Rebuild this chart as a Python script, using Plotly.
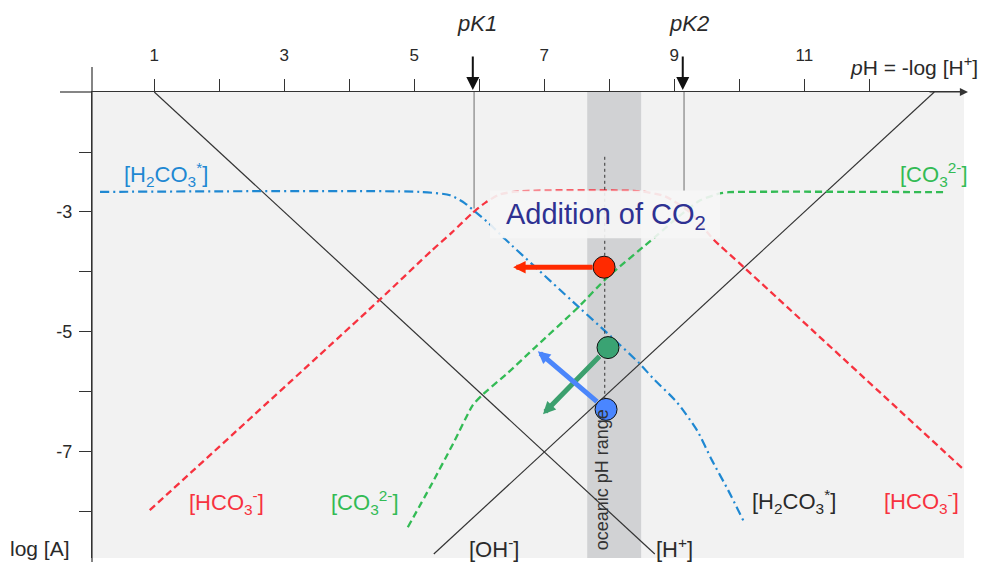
import plotly.graph_objects as go

# ---------------- data ----------------
ph_h2co3 = [0.165, 5.09, 5.55, 5.78, 5.93, 6.15, 6.40, 7.55, 7.97, 8.46, 8.67, 9.04, 9.35, 9.58, 9.83, 10.06]
log_h2co3 = [-2.665, -2.665, -2.72, -2.855, -2.99, -3.19, -3.455, -4.605, -5.02, -5.52, -5.77, -6.17, -6.64, -7.14, -7.64, -8.14]

ph_hco3 = [0.93, 4.46, 5.27, 5.58, 5.89, 6.10, 6.32, 6.63, 8.47, 8.86, 9.24, 9.60, 10.07, 13.43]
log_hco3 = [-7.97, -4.47, -3.64, -3.34, -3.02, -2.84, -2.705, -2.655, -2.655, -2.74, -3.005, -3.455, -3.92, -7.27]

ph_co3 = [4.90, 5.24, 5.60, 5.90, 6.04, 6.43, 6.86, 7.52, 7.97, 8.70, 9.09, 9.40, 9.70, 9.84, 13.19]
log_co3 = [-8.255, -7.59, -6.855, -6.22, -6.055, -5.69, -5.255, -4.59, -4.09, -3.42, -3.055, -2.805, -2.69, -2.67, -2.67]

ph_h = [1.0, 8.7]
log_h = [-1.0, -8.7]
ph_oh = [5.3, 13.0]
log_oh = [-8.7, -1.0]

pk1 = 5.92
pk2 = 9.15
ocean_range = [7.66, 8.49]
ocean_ph = 7.93
dotted_log = [-2.08, -6.1]

point_ph = [7.92, 7.98, 7.95]
point_log = [-3.92, -5.26, -6.29]
point_colors = ["#ff2a00", "#3aa373", "#4a86ff"]
arrow_tip_ph = [6.52, 6.98, 6.90]
arrow_tip_log = [-3.92, -6.37, -5.32]

x_tick_vals = list(range(1, 13))
x_tick_text = [str(v) if v % 2 else "" for v in x_tick_vals]
y_tick_vals = [-2, -3, -4, -5, -6, -7, -8]
y_tick_text = ["", "-3", "", "-5", "", "-7", ""]

X_RANGE = [0.0415, 13.457]
Y_RANGE = [-8.767, -1.0]

FONT = "Liberation Sans, Arial, Helvetica, sans-serif"
BLUE = "#1f88d2"
RED = "#f7323f"
GREEN = "#33bb55"
INK = "#2a2a2a"

# page has an 8px body margin; plot-area geometry in page pixels
OFF = 8
PL, PT, PW, PH = 92, 92, 872, 466   # plot area left/top/width/height in page px


def px_x(px):
    return (px - PL) / PW


def px_y(py):
    return (PT + PH - py) / PH


fig = go.Figure()

fig.add_trace(go.Scatter(x=ph_h, y=log_h, mode="lines", line=dict(color="#333", width=1.2), hoverinfo="skip"))
fig.add_trace(go.Scatter(x=ph_oh, y=log_oh, mode="lines", line=dict(color="#333", width=1.2), hoverinfo="skip"))

fig.add_trace(go.Scatter(x=ph_h2co3, y=log_h2co3, mode="lines",
                         line=dict(color=BLUE, width=2.2, dash="9px,4px,2px,4px", shape="spline", smoothing=0.6),
                         hoverinfo="skip"))
fig.add_trace(go.Scatter(x=ph_hco3, y=log_hco3, mode="lines",
                         line=dict(color=RED, width=2.3, dash="7px,4px", shape="spline", smoothing=0.6),
                         hoverinfo="skip"))
fig.add_trace(go.Scatter(x=ph_co3, y=log_co3, mode="lines",
                         line=dict(color=GREEN, width=2.3, dash="7px,4px", shape="spline", smoothing=0.6),
                         hoverinfo="skip"))

fig.add_trace(go.Scatter(x=[pk1, pk1], y=[-1.0, -2.94], mode="lines", line=dict(color="#999", width=1.5), hoverinfo="skip"))
fig.add_trace(go.Scatter(x=[pk2, pk2], y=[-1.0, -2.65], mode="lines", line=dict(color="#999", width=1.5), hoverinfo="skip"))

fig.add_trace(go.Scatter(x=[ocean_ph, ocean_ph], y=dotted_log, mode="lines",
                         line=dict(color="#333", width=1, dash="dot"), hoverinfo="skip"))

fig.add_trace(go.Scatter(x=point_ph, y=point_log, mode="markers",
                         marker=dict(size=22, color=point_colors, line=dict(color="#111", width=1)),
                         hoverinfo="skip"))

shapes = [
    dict(type="rect", xref="x", yref="paper", x0=ocean_range[0], x1=ocean_range[1], y0=0, y1=1,
         fillcolor="#d1d2d4", line=dict(width=0), layer="below"),
    dict(type="rect", xref="x", yref="y", x0=6.165, x1=9.703, y0=-3.438, y1=-2.64,
         fillcolor="rgba(246,246,246,0.9)", line=dict(width=0), layer="above"),
    dict(type="line", xref="paper", yref="paper", x0=px_x(60), x1=0, y0=1, y1=1,
         line=dict(color="#333", width=1.2)),
    dict(type="line", xref="paper", yref="paper", x0=0, x1=0, y0=px_y(570), y1=px_y(67),
         line=dict(color="#333", width=1.2)),
]


def label(x, y, text, size, color, xref="paper", yref="paper", **kw):
    d = dict(xref=xref, yref=yref, x=x, y=y, text=text, showarrow=False,
             xanchor="center", yanchor="middle", font=dict(family=FONT, size=size, color=color))
    d.update(kw)
    return d


annotations = []
annotations.append(dict(xref="paper", yref="paper", x=px_x(968), y=1, ax=-40, ay=0, text="",
                        showarrow=True, arrowhead=2, arrowsize=1.35, arrowwidth=1.2, arrowcolor="#333"))
for xv in [5.90, 9.13]:
    annotations.append(dict(xref="x", yref="paper", x=xv, y=px_y(90), ax=0, ay=-35, text="",
                            showarrow=True, arrowhead=2, arrowsize=1.3, arrowwidth=2, arrowcolor="#111"))
annotations.append(label(px_x(477), px_y(23), "<i>pK1</i>", 22, INK))
annotations.append(label(px_x(689), px_y(23), "<i>pK2</i>", 22, INK))
annotations.append(label(px_x(914), px_y(66), "<i>p</i>H = -log [H<sup>+</sup>]", 21, INK))
annotations.append(label(px_x(40), px_y(548), "log [A]", 21, INK))

labels = [
    (1.18, -2.372, "[H<sub>2</sub>CO<sub>3</sub><sup>*</sup>]", BLUE),
    (13.0, -2.372, "[CO<sub>3</sub><sup>2-</sup>]", GREEN),
    (2.111, -7.838, "[HCO<sub>3</sub><sup>-</sup>]", RED),
    (4.249, -7.838, "[CO<sub>3</sub><sup>2-</sup>]", GREEN),
    (10.849, -7.822, "[H<sub>2</sub>CO<sub>3</sub><sup>*</sup>]", INK),
    (12.81, -7.822, "[HCO<sub>3</sub><sup>-</sup>]", RED),
    (6.226, -8.605, "[OH<sup>-</sup>]", INK),
    (9.01, -8.605, "[H<sup>+</sup>]", INK),
]
for xv, yv, t, c in labels:
    annotations.append(label(xv, yv, t, 22, c, xref="x", yref="y"))

annotations.append(label(7.95, -3.072, "Addition of CO<sub>2</sub>", 29, "#2e3192", xref="x", yref="y"))
annotations.append(label(7.89, -7.47, "oceanic pH range", 18, "#333", xref="x", yref="y", textangle=-90))

arrow_colors = ["#ff2a00", "#3ca06e", "#4b86fb"]
for i in range(3):
    annotations.append(dict(xref="x", yref="y", axref="x", ayref="y",
                            x=arrow_tip_ph[i], y=arrow_tip_log[i], ax=point_ph[i], ay=point_log[i],
                            text="", showarrow=True, arrowhead=2, arrowsize=0.5, arrowwidth=5,
                            arrowcolor=arrow_colors[i], startstandoff=10))

fig.update_layout(
    width=987 - OFF, height=562 - OFF,
    margin=dict(l=PL - OFF, r=987 - PL - PW, t=PT - OFF, b=562 - PT - PH, pad=0),
    paper_bgcolor="white", plot_bgcolor="#f2f2f2",
    showlegend=False,
    shapes=shapes, annotations=annotations,
    font=dict(family=FONT, color=INK),
    xaxis=dict(range=X_RANGE, side="top", showgrid=False, zeroline=False, showline=True,
               linecolor="#333", linewidth=1.2, ticks="outside", ticklen=12, tickwidth=1.2,
               tickcolor="#333", tickmode="array", tickvals=x_tick_vals, ticktext=x_tick_text,
               tickfont=dict(family=FONT, size=17, color=INK), ticklabelstandoff=11,
               fixedrange=True, automargin=False),
    yaxis=dict(range=Y_RANGE, showgrid=False, zeroline=False, showline=True,
               linecolor="#333", linewidth=1.2, ticks="outside", ticklen=12, tickwidth=1.2,
               tickcolor="#333", tickmode="array", tickvals=y_tick_vals, ticktext=y_tick_text,
               tickfont=dict(family=FONT, size=18, color=INK), ticklabelstandoff=3,
               fixedrange=True, automargin=False),
)

fig.write_html("out.html")
